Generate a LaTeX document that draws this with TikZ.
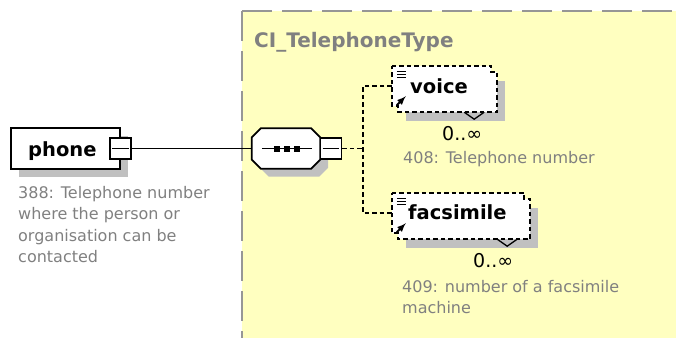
\documentclass[tikz,border=0pt]{standalone}
\usepackage{fontspec}
\setmainfont{DejaVu Sans}
\usetikzlibrary{arrows, calc, shadows}
\definecolor{xyellow}{RGB}{255,255,192}
\definecolor{xgray}{RGB}{128,128,128}
\definecolor{xframe}{RGB}{150,150,150}
\definecolor{xshade}{RGB}{192,192,192}
\tikzset{
  shad/.style={drop shadow={shadow xshift=8pt, shadow yshift=-8pt, fill=xshade, opacity=1}},
  elem/.style={draw, line width=1.8, fill=white, inner sep=0},
  front/.style={inner sep=0, minimum height=40},
  minusbox/.style={draw, line width=1.8, fill=white, inner sep=0, minimum width=21, minimum height=21},
  link/.style={line width=1.8},
  optlink/.style={line width=1.8, dash pattern=on 4.5 off 3},
  frame/.style={line width=2, xframe, dash pattern=on 30 off 10},
  typetitle/.style={text=xgray, font=\fontsize{20}{24}\selectfont\bfseries, inner sep=0, anchor=base west},
  elname/.style={font=\fontsize{19.5}{24}\selectfont\bfseries, inner sep=0, anchor=base west},
  occtext/.style={font=\fontsize{19}{24}\selectfont, inner sep=0, anchor=base west},
  desctext/.style={text=xgray, font=\fontsize{16}{21.5}\selectfont, inner sep=0, align=left, anchor=north west}
}
\begin{document}
\begin{tikzpicture}[x=1pt, y=-1pt]
\useasboundingbox (0,0) rectangle (676,338);

% complex type area
\fill[xyellow] (242,11) rectangle (676,338);
\draw[frame] (242,11) -- (676,11);
\draw[frame] (242,11) -- (242,338);
\node[typetitle] (type) at (254,47) {CI\_TelephoneType};

% phone
\node[elem, shad, minimum width=109, minimum height=41] (phone) at (65.5,148.5) {};
\node[elname] (phonename) at (28,156) {phone};
\node[minusbox] (phonem) at (120.5,148.5) {};
\draw[link] ($(phonem.west)+(3,0)$) -- ($(phonem.east)+(-3,0)$);
\node[desctext] (phonedesc) at (18,186) {388: Telephone number\\where the person or\\organisation can be\\contacted};

% sequence
\node[front, minimum width=68] (seq) at (286,148.5) {};
\foreach \d/\col/\edge in {8/xshade/none, 0/white/black}
  \filldraw[link, fill=\col, draw=\edge] ($(seq.north west)+(\d+9,\d)$) -- ($(seq.north east)+(\d-9,\d)$)
    -- ($(seq.north east)+(\d,\d+9)$) -- ($(seq.south east)+(\d,\d-9)$) -- ($(seq.south east)+(\d-9,\d)$)
    -- ($(seq.south west)+(\d+9,\d)$) -- ($(seq.south west)+(\d,\d-9)$) -- ($(seq.north west)+(\d,\d+9)$) -- cycle;
\draw[link] ($(seq.west)+(10,0)$) -- ($(seq.east)+(-8,0)$);
\foreach \i in {-9.5,0.5,10.5}
  \fill ($(seq.center)+(\i,0.5)$) +(-3,-3) rectangle +(3,3);
\node[minusbox] (seqm) at (331,148.5) {};
\draw[link] ($(seqm.west)+(3,0)$) -- ($(seqm.east)+(-3,0)$);
\draw[link] (phonem.east) -- (seq.west);

% children
\node[front, minimum width=99] (voice) at (441.5,86) {};
\node[front, minimum width=132] (fax) at (458,213) {};
\foreach \e in {voice,fax}{
  \fill[xshade] ($(\e.north west)+(14,15)$) rectangle ($(\e.south east)+(14,15)$);
  \filldraw[optlink, fill=white] (\e.north west) -- (\e.north east) -- ++(0,6) -- ++(6,0)
    -- ($(\e.south east)+(6,6)$) -- ($(\e.south west)+(6,6)$) -- ++(0,-6) -- (\e.south west) -- cycle;
  \draw[line width=1.3] ($(\e.south east)+(-27,6)$) -- ++(10,7) -- ++(10,-7);
  \foreach \k in {6,9,12}
    \draw[line width=1.2] ($(\e.north west)+(5,\k)$) -- ++(9,0);
  \draw[-latex, line width=2] ($(\e.south west)+(5,-1)$) -- ++(9,-9);
}
\coordinate (fork) at (363,148.5);
\draw[optlink] (seqm.east) -- (fork);
\draw[optlink] (voice.west) -| (fork) |- (fax.west);

\node[elname] (voicename) at (410,93) {voice};
\node[occtext] (voiceocc) at (442,140) {0..∞};
\node[desctext] (voicedesc) at (403,151) {408: Telephone number};

\node[elname] (faxname) at (408,219) {facsimile};
\node[occtext] (faxocc) at (473,267) {0..∞};
\node[desctext] (faxdesc) at (402,280) {409: number of a facsimile\\machine};
\end{tikzpicture}
\end{document}
